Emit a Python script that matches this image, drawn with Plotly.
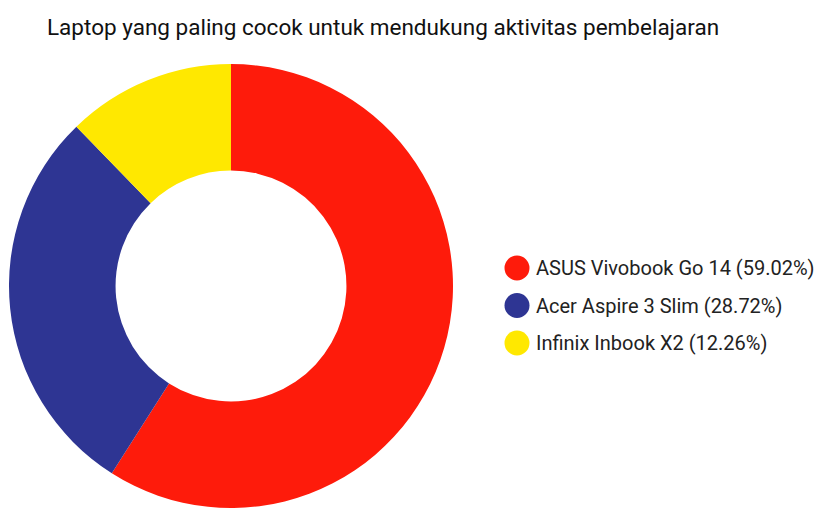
import plotly.graph_objects as go

# data
laptops = ['ASUS Vivobook Go 14', 'Acer Aspire 3 Slim', 'Infinix Inbook X2']
shares = [59.02, 28.72, 12.26]
colors = ['#fe1b0b', '#2e3593', '#ffe800']
title = 'Laptop yang paling cocok untuk mendukung aktivitas pembelajaran'

W, H = 833, 523
off = 8  # page body margin
cx, cy, r = 231 - off, 286 - off, 222

fig = go.Figure()
fig.add_trace(go.Pie(
    labels=laptops, values=shares, sort=False, direction='clockwise', rotation=0,
    hole=0.52, marker=dict(colors=colors, line=dict(width=0)),
    textinfo='none', hoverinfo='label+percent', showlegend=False,
    domain=dict(x=[(cx - r) / W, (cx + r) / W], y=[(H - cy - r) / H, (H - cy + r) / H]),
))

# legend drawn by hand so the markers can be big circles
leg_x, leg_y0, leg_dy, dot_r = 517 - off, 268 - off, 37.5, 12.5
shapes = []
annotations = []
for i, (name, val, col) in enumerate(zip(laptops, shares, colors)):
    y = leg_y0 + i * leg_dy
    shapes.append(dict(type='circle', xref='paper', yref='paper', line=dict(width=0), fillcolor=col,
                       x0=(leg_x - dot_r) / W, x1=(leg_x + dot_r) / W,
                       y0=(H - y - dot_r) / H, y1=(H - y + dot_r) / H))
    annotations.append(dict(text='%s (%.2f%%)' % (name, val), xref='paper', yref='paper',
                            x=(534 - off) / W, y=(H - y) / H, xanchor='left', yanchor='middle',
                            showarrow=False, font=dict(size=20, color='#222222')))

fig.update_layout(
    width=W, height=H, margin=dict(l=0, r=0, t=0, b=0),
    paper_bgcolor='white', plot_bgcolor='white',
    font=dict(family='Roboto'),
    title=dict(text=title, x=(47 - off) / W, xanchor='left', y=1 - (27.5 - off) / H, yanchor='middle',
               font=dict(size=22.5, color='#111111')),
    shapes=shapes, annotations=annotations,
)
fig.write_html('out.html')
